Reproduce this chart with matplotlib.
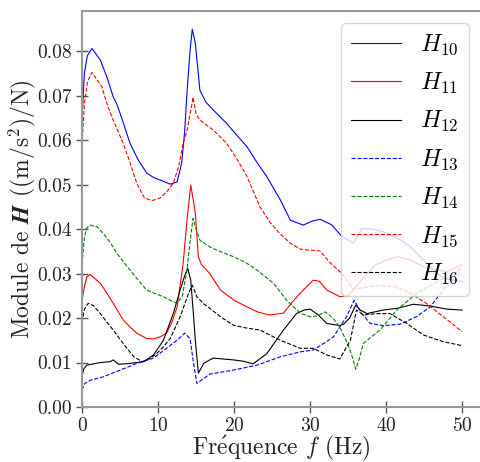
import numpy as np
import matplotlib
matplotlib.use("Agg")
import matplotlib.pyplot as plt

plt.rcParams['font.family'] = 'serif'
plt.rcParams['font.serif'] = ['cmr10', 'DejaVu Serif']
plt.rcParams['mathtext.fontset'] = 'cm'
plt.rcParams['axes.formatter.use_mathtext'] = True
plt.rcParams['axes.unicode_minus'] = False

# --- Données (fréquence en Hz, module de H) ---
f10 = [0, 0.3, 0.7, 1.3, 2.4, 3.3, 4.1, 4.6, 5.4, 6.3, 7.4, 8.5, 9.4, 10.3, 11.6, 12.5, 13.1, 13.5,
       13.8, 14.2, 14.5, 14.9, 15.5, 16.3, 17.3, 19.0, 20.3, 21.7, 23.0, 24.3, 26.1, 27.4, 29.1, 30.3,
       31.3, 32.8, 34.2, 35.7, 36.8, 38.2, 39.6, 41.5, 43.2, 45.8, 47.5, 48.8, 50]
H10 = [0.065, 0.075, 0.079, 0.0806, 0.078, 0.074, 0.0697, 0.068, 0.064, 0.0593, 0.0555, 0.0526,
       0.0516, 0.051, 0.0501, 0.0506, 0.0548, 0.062, 0.0706, 0.080, 0.0849, 0.0818, 0.0712, 0.0685,
       0.0667, 0.0638, 0.0612, 0.0585, 0.055, 0.0518, 0.0465, 0.042, 0.0409, 0.0418, 0.0422, 0.041,
       0.0383, 0.0369, 0.0401, 0.0400, 0.0394, 0.038, 0.036, 0.0315, 0.029, 0.0285, 0.0282]

f11 = [0, 0.3, 0.6, 1.05, 2.4, 3.3, 4.1, 5.4, 6.3, 7.2, 8.5, 9.4, 10.3, 11.1, 11.8, 12.5, 13.3, 13.8,
       14.3, 14.9, 15.3, 15.7, 16.8, 18.2, 20.0, 21.7, 23.2, 24.7, 26.5, 27.6, 28.7, 30.4, 31.2, 32.2,
       33.9, 35.0, 36.0, 37.0, 38.5, 40.0, 41.4, 43.0, 45.3, 48.0, 50]
H11 = [0.024, 0.027, 0.0292, 0.0298, 0.0278, 0.0255, 0.0233, 0.0196, 0.018, 0.0166, 0.0154, 0.0153,
       0.0158, 0.0166, 0.019, 0.0225, 0.0323, 0.042, 0.0499, 0.0436, 0.0338, 0.032, 0.030, 0.0263,
       0.024, 0.0225, 0.0213, 0.0207, 0.0211, 0.0235, 0.0256, 0.0285, 0.0283, 0.0263, 0.0248, 0.025,
       0.027, 0.029, 0.0318, 0.033, 0.0338, 0.0332, 0.0312, 0.0304, 0.032]

f12 = [0, 0.2, 0.6, 1.5, 2.4, 3.7, 4.1, 4.8, 6.3, 8.1, 9.4, 10.7, 12.0, 12.9, 13.5, 13.9, 14.3, 14.6,
       14.9, 15.3, 16.0, 16.8, 17.3, 18.5, 19.9, 21.2, 22.5, 24.3, 26.5, 28.2, 29.2, 30.0, 31.0, 32.2,
       33.9, 34.4, 35.2, 36.0, 36.6, 37.5, 39.6, 41.5, 43.6, 45.8, 48.0, 50]
H12 = [0.0068, 0.0085, 0.0094, 0.0097, 0.010, 0.0102, 0.0106, 0.0096, 0.0098, 0.0102, 0.0117, 0.015,
       0.021, 0.0263, 0.0295, 0.0312, 0.0285, 0.022, 0.015, 0.0076, 0.0098, 0.0106, 0.011, 0.0108,
       0.0106, 0.0103, 0.0097, 0.012, 0.0173, 0.021, 0.0218, 0.022, 0.0208, 0.0188, 0.0183, 0.0186,
       0.020, 0.0229, 0.0218, 0.021, 0.0218, 0.0222, 0.0231, 0.0227, 0.022, 0.0218]

f13 = [0, 0.3, 1.05, 2.8, 5.0, 7.2, 9.4, 11.1, 12.5, 13.5, 14.2, 14.6, 15.1, 16.0, 16.8, 19.9, 23.0,
       26.1, 28.7, 30.4, 31.8, 33.1, 33.9, 34.8, 35.8, 36.8, 37.9, 39.6, 41.8, 44.0, 45.8, 47.5, 48.9, 50]
H13 = [0.0038, 0.0052, 0.006, 0.0068, 0.0083, 0.0098, 0.011, 0.0132, 0.015, 0.0166, 0.0154, 0.0106,
       0.0053, 0.0064, 0.0074, 0.0083, 0.0094, 0.0113, 0.0124, 0.0128, 0.0143, 0.0158, 0.018, 0.0203,
       0.024, 0.021, 0.0188, 0.0183, 0.0186, 0.0203, 0.0225, 0.0263, 0.0297, 0.0315]

f14 = [0, 0.3, 0.6, 1.05, 2.0, 2.8, 3.7, 4.6, 5.5, 6.3, 7.4, 8.5, 9.6, 10.7, 11.6, 12.5, 13.2, 13.8,
       14.2, 14.6, 15.0, 15.5, 16.8, 17.7, 19.9, 21.5, 23.0, 25.2, 26.9, 28.7, 30.0, 31.0, 32.0, 33.0,
       33.9, 35.0, 35.6, 36.0, 36.5, 37.0, 39.2, 41.4, 44.0, 47.1, 50]
H14 = [0.032, 0.038, 0.0402, 0.0409, 0.0405, 0.039, 0.037, 0.0345, 0.0325, 0.0308, 0.0285, 0.0263,
       0.0255, 0.0248, 0.024, 0.0233, 0.025, 0.0308, 0.037, 0.0424, 0.040, 0.0375, 0.036, 0.0353,
       0.0338, 0.0325, 0.0308, 0.0278, 0.024, 0.0211, 0.0203, 0.0205, 0.0214, 0.020, 0.018, 0.014,
       0.011, 0.0085, 0.011, 0.0143, 0.0173, 0.0218, 0.0255, 0.0285, 0.0298]

f15 = [0, 0.3, 0.7, 1.3, 2.6, 3.3, 4.1, 5.4, 6.3, 7.2, 8.2, 9.2, 10.3, 11.2, 12.0, 12.7, 13.3, 13.8,
       14.6, 15.0, 15.5, 17.3, 19.0, 20.3, 21.7, 23.4, 24.7, 26.0, 27.4, 28.7, 29.6, 31.3, 32.6, 34.2,
       35.7, 37.0, 38.5, 40.0, 41.4, 43.0, 45.3, 47.0, 48.5, 50]
H15 = [0.059, 0.068, 0.073, 0.0752, 0.072, 0.068, 0.0645, 0.0593, 0.055, 0.0503, 0.047, 0.0464, 0.047,
       0.0485, 0.0503, 0.054, 0.0593, 0.062, 0.0696, 0.066, 0.0645, 0.0622, 0.0593, 0.056, 0.0518,
       0.045, 0.0416, 0.039, 0.0368, 0.0355, 0.0353, 0.0351, 0.0325, 0.030, 0.0265, 0.0268, 0.0273,
       0.0272, 0.027, 0.0258, 0.0233, 0.021, 0.019, 0.0169]

f16 = [0, 0.3, 0.8, 1.5, 2.4, 3.3, 4.1, 5.4, 6.8, 7.9, 8.8, 9.8, 10.7, 11.6, 12.9, 14.0, 14.5, 15.1,
       16.0, 16.8, 18.2, 19.9, 21.5, 23.4, 26.1, 28.7, 30.4, 32.2, 33.9, 35.3, 36.1, 37.0, 38.8, 40.5,
       42.7, 44.9, 47.5, 50]
H16 = [0.019, 0.022, 0.0233, 0.0228, 0.021, 0.019, 0.0173, 0.0143, 0.0113, 0.0102, 0.0108, 0.012,
       0.0135, 0.0154, 0.0203, 0.0255, 0.0274, 0.0248, 0.0232, 0.0222, 0.0203, 0.0184, 0.0178, 0.0173,
       0.015, 0.0132, 0.0132, 0.0117, 0.0108, 0.015, 0.0218, 0.0207, 0.021, 0.021, 0.0188, 0.0162,
       0.0147, 0.0138]

series = [
    (f10, H10, 'b', '-', r'$H_{10}$'),
    (f11, H11, 'r', '-', r'$H_{11}$'),
    (f12, H12, 'k', '-', r'$H_{12}$'),
    (f13, H13, 'b', '--', r'$H_{13}$'),
    (f14, H14, 'g', '--', r'$H_{14}$'),
    (f15, H15, 'r', '--', r'$H_{15}$'),
    (f16, H16, 'k', '--', r'$H_{16}$'),
]

# --- Figure ---
fig = plt.figure(figsize=(4.8, 4.62), dpi=100)
ax = fig.add_axes([0.171, 0.119, 0.8313, 0.857])

for f, h, c, ls, lab in series:
    ax.plot(f, h, color=c, linestyle=ls, linewidth=0.8, label=lab)

ax.set_xlim(0, 52.5)
ax.set_ylim(0, 0.089)
ax.set_xticks([0, 10, 20, 30, 40, 50])
ax.set_yticks(np.arange(0, 0.081, 0.01))
ax.yaxis.set_major_formatter(matplotlib.ticker.FormatStrFormatter('%.2f'))

for s in ax.spines.values():
    s.set_color('#999999')
    s.set_linewidth(1.5)
ax.tick_params(direction='inout', colors='#555555', labelcolor='#222222',
               labelsize=14, length=8, width=1)

ax.set_xlabel(r'Fr$\acute{\mathrm{e}}$quence $f$ (Hz)', fontsize=17, color='#222222', labelpad=-1)
ax.set_ylabel(r'Module de $\boldsymbol{H}$ ((m/s$^2$)/N)', fontsize=17, color='#222222', labelpad=-0.5)

ax.legend(loc='upper right', fontsize=17.5, handlelength=2.05, labelspacing=0.55, borderaxespad=0.5)

fig.savefig('out.png', dpi=100)
